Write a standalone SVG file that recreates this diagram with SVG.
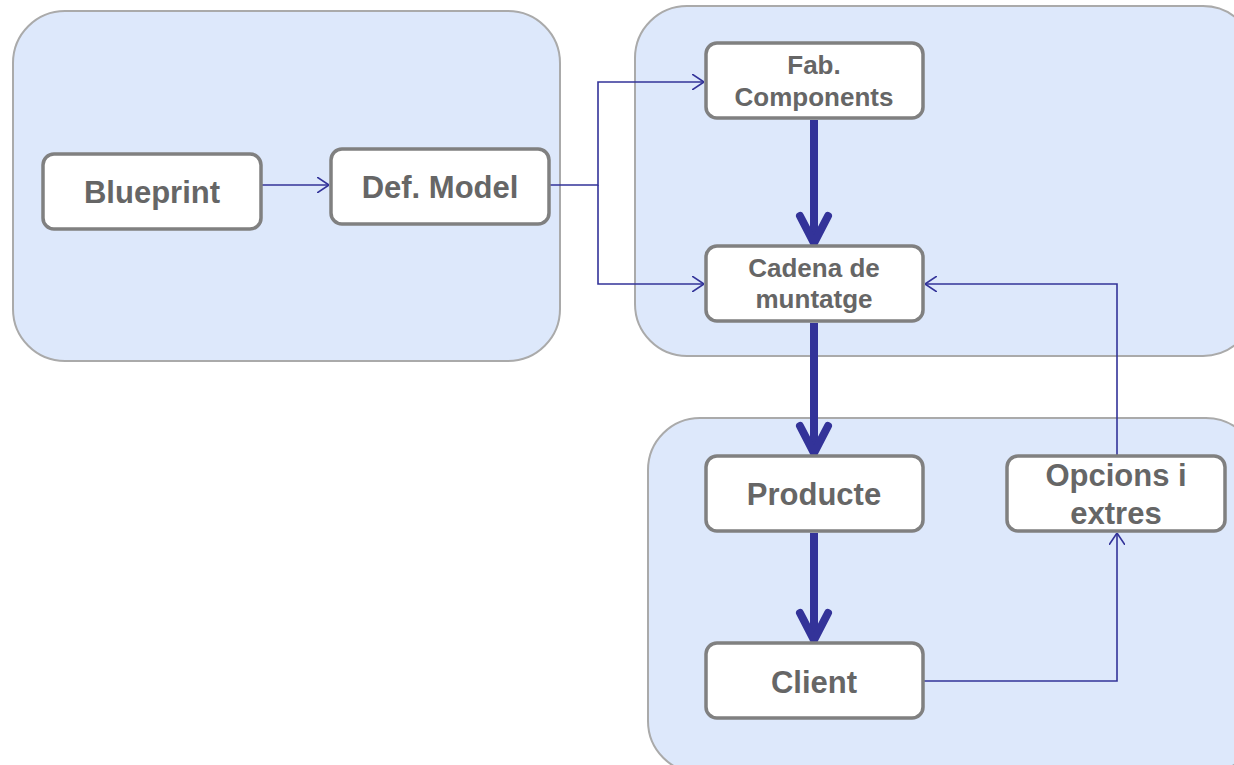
<svg xmlns="http://www.w3.org/2000/svg" width="1234" height="765" viewBox="0 0 1234 765">
<defs>
<style>
.grp{fill:#dde8fb;stroke:#aaaaaa;stroke-width:2}
.node{fill:#ffffff;stroke:#808080;stroke-width:3.5}
.t{font-family:"Liberation Sans",Arial,sans-serif;font-weight:bold;fill:#666666;text-anchor:middle}
.big{font-size:31px}
.sm{font-size:26px}
.thin{fill:none;stroke:#333399;stroke-width:1.6}
.thick{fill:none;stroke:#333399;stroke-width:8}
</style>
<marker id="ah" viewBox="0 0 12 16" refX="12" refY="8" markerWidth="12" markerHeight="16" markerUnits="userSpaceOnUse" orient="auto">
<path d="M0,0 L12,8 L0,16" fill="none" stroke="#333399" stroke-width="1.6"/>
</marker>
</defs>
<g id="containers">
<rect class="grp" x="13" y="11" width="547" height="350" rx="52"/>
<rect class="grp" x="635" y="6" width="620" height="350" rx="52"/>
<rect class="grp" x="648" y="418" width="610" height="355" rx="52"/>
</g>
<g id="connectors">
<path class="thin" d="M261,185 H329" marker-end="url(#ah)"/>
<path class="thin" d="M549,185 H598 V82 H704" marker-end="url(#ah)"/>
<path class="thin" d="M598,185 V284 H704" marker-end="url(#ah)"/>
<path class="thin" d="M923,681 H1117 V533" marker-end="url(#ah)"/>
<path class="thin" d="M1117,456 V284 H925" marker-end="url(#ah)"/>
<path class="thick" d="M814,120 V240"/>
<path class="thick" d="M800,216 L814,243 L828,216" stroke-linecap="round"/>
<path class="thick" d="M814,323 V450"/>
<path class="thick" d="M800,426 L814,453 L828,426" stroke-linecap="round"/>
<path class="thick" d="M814,533 V637"/>
<path class="thick" d="M800,613 L814,640 L828,613" stroke-linecap="round"/>
</g>
<g id="blueprint">
<rect class="node" x="43" y="154" width="218" height="75" rx="11"/>
<text class="t big" x="152" y="203">Blueprint</text>
</g>
<g id="defmodel">
<rect class="node" x="331" y="149" width="218" height="75" rx="11"/>
<text class="t big" x="440" y="198">Def. Model</text>
</g>
<g id="fab">
<rect class="node" x="706" y="43" width="217" height="75" rx="11"/>
<text class="t sm" x="814" y="74">Fab.</text>
<text class="t sm" x="814" y="106">Components</text>
</g>
<g id="cadena">
<rect class="node" x="706" y="246" width="217" height="75" rx="11"/>
<text class="t sm" x="814" y="277">Cadena de</text>
<text class="t sm" x="814" y="308">muntatge</text>
</g>
<g id="producte">
<rect class="node" x="706" y="456" width="217" height="75" rx="11"/>
<text class="t big" x="814" y="505">Producte</text>
</g>
<g id="opcions">
<rect class="node" x="1007" y="456" width="218" height="75" rx="11"/>
<text class="t big" x="1116" y="486">Opcions i</text>
<text class="t big" x="1116" y="524">extres</text>
</g>
<g id="client">
<rect class="node" x="706" y="643" width="217" height="75" rx="11"/>
<text class="t big" x="814" y="693">Client</text>
</g>
</svg>
